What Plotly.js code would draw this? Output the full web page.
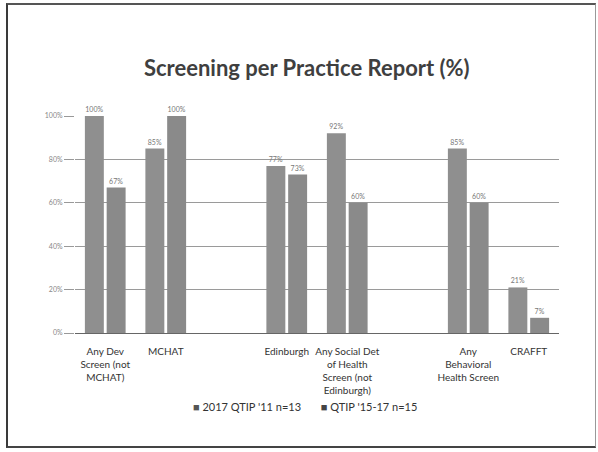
<!DOCTYPE html>
<html>
<head>
<meta charset="utf-8">
<script src="https://cdn.plot.ly/plotly-3.0.1.min.js"></script>
<style>
  html, body { margin: 0; padding: 0; background: #fff; }
  #wrap { position: relative; width: 598px; height: 452px; overflow: hidden; }
  #chart { width: 598px; height: 452px; }
  #frame { position: absolute; left: 6px; top: 3px; width: 587px; height: 441px;
           border-left: 2px solid #3a3a3a; border-top: 2px solid #555; border-bottom: 2px solid #444;
           border-right: 1px solid #999; pointer-events: none; }
</style>
</head>
<body>
<div id="wrap">
  <div id="chart"></div>
  <div id="frame"></div>
</div>
<script>
// Categories (blank entries are the empty slots on the axis)
const categories = [
  "Any Dev<br>Screen (not<br>MCHAT)",
  "MCHAT",
  "",
  "Edinburgh",
  "Any Social Det<br>of Health<br>Screen (not<br>Edinburgh)",
  "",
  "Any<br>Behavioral<br>Health Screen",
  "CRAFFT"
];
const seriesNames = ["2017 QTIP '11 n=13", "QTIP '15-17 n=15"];
const series1 = [100, 85, null, 77, 92, null, 85, 21];
const series2 = [67, 100, null, 73, 60, null, 60, 7];
const yTicks = [0, 20, 40, 60, 80, 100];
const yTickText = ["0%", "20%", "40%", "60%", "80%", "100%"];
const barColors = ['#8f8f8f', '#8a8a8a'];
const legendColors = ['#555', '#444'];

const idx = categories.map((c, i) => i);
const tickIdx = idx.filter(i => categories[i] !== "");
const tickText = tickIdx.map(i => categories[i]);
const FONT = 'Lato, Open Sans, sans-serif';

function trace(name, vals, color) {
  return {
    type: 'bar', name: name, x: idx, y: vals, showlegend: false,
    marker: { color: color, line: { width: 0 } },
    text: vals.map(v => v == null ? '' : v + '%'),
    texttemplate: '%{text}', textposition: 'outside', cliponaxis: false,
    textfont: { family: FONT, size: 7, color: '#777' },
    hoverinfo: 'skip'
  };
}

const data = [
  trace(seriesNames[0], series1, barColors[0]),
  trace(seriesNames[1], series2, barColors[1])
];

// Legend drawn as one annotation built from the series names
const legendText = seriesNames.map((n, i) =>
  '<span style="color:' + legendColors[i] + ';font-size:11px">■</span> ' + n
).join('\u00a0\u00a0\u00a0\u00a0\u00a0\u00a0\u00a0');

const layout = {
  width: 598, height: 452,
  margin: { l: 75, r: 39, t: 116, b: 119 },
  paper_bgcolor: '#fff', plot_bgcolor: '#fff',
  showlegend: false,
  title: {
    text: '<b>Screening per Practice Report (%)</b>',
    x: 0.513, xanchor: 'center', y: 0.85, yanchor: 'middle',
    font: { family: FONT, size: 22, color: '#3f3f3f' }
  },
  barmode: 'group', bargap: 0.28, bargroupgap: 0.13,
  xaxis: {
    range: [-0.5, categories.length - 0.5],
    tickvals: tickIdx, ticktext: tickText,
    showgrid: false, zeroline: false, showline: false, ticks: '',
    ticklabelstandoff: 11,
    tickfont: { family: FONT, size: 10, color: '#333' },
    fixedrange: true
  },
  yaxis: {
    range: [0, 100], tickvals: yTicks, ticktext: yTickText,
    showgrid: true, gridcolor: '#9a9a9a', gridwidth: 1,
    zeroline: true, zerolinecolor: '#666', zerolinewidth: 1,
    ticks: 'outside', ticklen: 10, tickcolor: '#999',
    tickfont: { family: FONT, size: 7, color: '#888' },
    showline: false, fixedrange: true
  },
  annotations: [{
    xref: 'paper', yref: 'paper', x: 0.475, y: -0.341,
    xanchor: 'center', yanchor: 'middle', showarrow: false,
    text: legendText,
    font: { family: FONT, size: 11, color: '#333' }
  }]
};

Plotly.newPlot('chart', data, layout, { displayModeBar: false, staticPlot: true });
</script>
</body>
</html>
